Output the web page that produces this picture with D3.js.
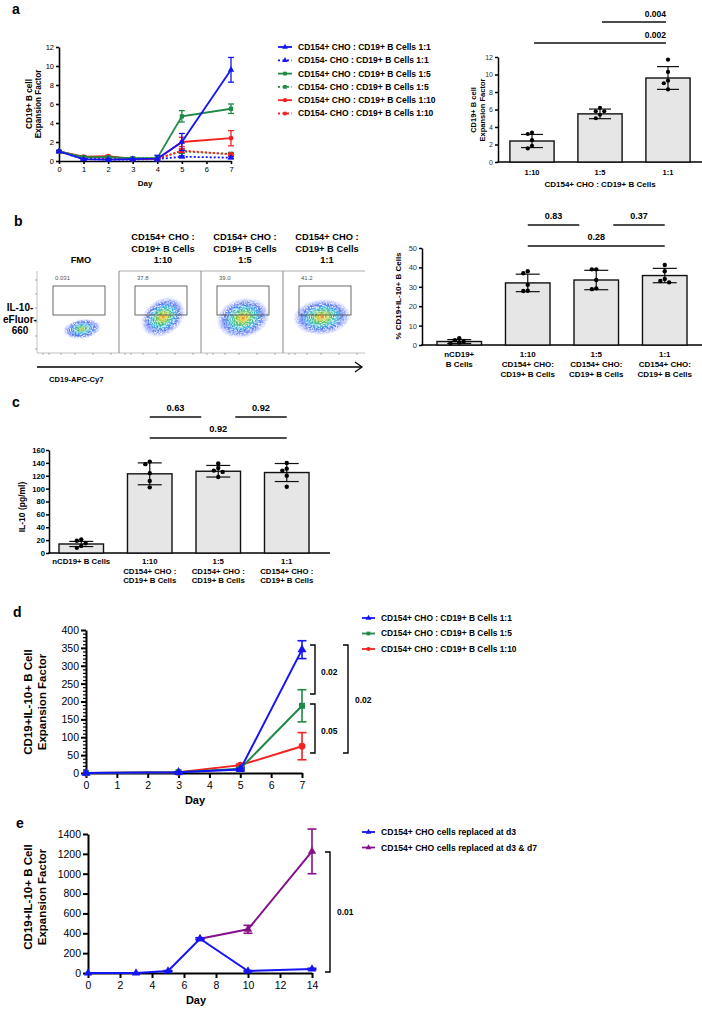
<!DOCTYPE html>
<html><head><meta charset="utf-8">
<script src="https://cdn.jsdelivr.net/npm/d3@7"></script>
<style>
body{margin:0;background:#fff}
svg{display:block}
text{font-family:"Liberation Sans",Arial,Helvetica,sans-serif}
</style>
</head><body>
<svg id="c" width="702" height="1011"></svg>
<script>
// ---------------- DATA ----------------
// Panel a (time course)
const daysA = [0,1,2,3,4,5,7];
const aPos11 = [1,0.2,0.15,0.2,0.25,2.0,9.6];
const aPos11Err = [0.1,0.05,0.05,0.05,0.35,0.9,1.3];
const aNeg11 = [1,0.2,0.15,0.15,0.2,0.45,0.35];
const aNeg11Err = [0.1,0.05,0.05,0.05,0.05,0.1,0.1];
const aPos15 = [1,0.4,0.4,0.3,0.3,4.7,5.5];
const aPos15Err = [0.1,0.1,0.1,0.1,0.1,0.6,0.5];
const aNeg15 = [1,0.35,0.3,0.3,0.3,1.0,0.75];
const aNeg15Err = [0.1,0.05,0.05,0.05,0.05,0.2,0.15];
const aPos110 = [1,0.45,0.5,0.2,0.2,2.0,2.4];
const aPos110Err = [0.1,0.1,0.1,0.05,0.05,0.5,0.8];
const aNeg110 = [1,0.3,0.3,0.2,0.2,1.1,0.7];
const aNeg110Err = [0.1,0.05,0.05,0.05,0.05,0.2,0.1];
const legendA = ["CD154+ CHO : CD19+ B Cells 1:1","CD154- CHO : CD19+ B Cells 1:1",
  "CD154+ CHO : CD19+ B Cells 1:5","CD154- CHO : CD19+ B Cells 1:5",
  "CD154+ CHO : CD19+ B Cells 1:10","CD154- CHO : CD19+ B Cells 1:10"];
const yTicksA = [0,2,4,6,8,10,12];
const xTicksA = [0,1,2,3,4,5,6,7];

// Panel a (bars)
const catsABar = ["1:10","1:5","1:1"];
const meansABar = [2.4,5.5,9.6];
const sdABar = [0.75,0.55,1.3];
const ptsABar = [[3.35,3.2,2.5,1.85,1.55],[6.2,5.8,5.8,5.4,5.0],[11.7,10.3,9.3,9.0,8.3]];
const sigABar = [{a:"1:5",b:"1:1",p:"0.004",lvl:0},{a:"1:10",b:"1:1",p:"0.002",lvl:1}];

// Panel b (flow)
const flowTitles = [["FMO"],["CD154+ CHO :","CD19+ B Cells","1:10"],["CD154+ CHO :","CD19+ B Cells","1:5"],["CD154+ CHO :","CD19+ B Cells","1:1"]];
const flowPct = ["0.031","37.8","39.0","41.2"];

// Panel b (bars)
const catsB = ["nCD19+","1:10","1:5","1:1"];
const labelsB = [["nCD19+","B Cells"],["1:10","CD154+ CHO:","CD19+ B Cells"],["1:5","CD154+ CHO:","CD19+ B Cells"],["1:1","CD154+ CHO:","CD19+ B Cells"]];
const meansB = [1.8,32,33.5,35.8];
const sdB = [1.0,4.5,5.0,3.7];
const ptsB = [[3.5,2.5,1.8,1.3,0.9],[38,37,31,28,27.8],[39,39,33.5,29.2,28.8],[41.2,38,34,33,32.3]];
const sigB = [{a:"1:10",b:"1:5",p:"0.83",lvl:0},{a:"1:5",b:"1:1",p:"0.37",lvl:0},{a:"1:10",b:"1:1",p:"0.28",lvl:1}];
const yTicksB = [0,10,20,30,40,50];

// Panel c
const catsC = ["nCD19+","1:10","1:5","1:1"];
const labelsC = [["nCD19+ B Cells"],["1:10","CD154+ CHO :","CD19+ B Cells"],["1:5","CD154+ CHO :","CD19+ B Cells"],["1:1","CD154+ CHO :","CD19+ B Cells"]];
const meansC = [14,123,127,125];
const sdC = [4,17,9,14];
const ptsC = [[21,19,15,11,8],[142,138,124,112,102],[139,132,128,126,118],[140,131,128,120,103]];
const sigC = [{a:"1:10",b:"1:5",p:"0.63",lvl:0},{a:"1:5",b:"1:1",p:"0.92",lvl:0},{a:"1:10",b:"1:1",p:"0.92",lvl:1}];
const yTicksC = [0,20,40,60,80,100,120,140,160];

// Panel d
const daysD = [0,3,5,7];
const d11 = [0,2,10,345];
const d11Err = [0,1,3,25];
const d15 = [0,2,12,188];
const d15Err = [0,1,3,45];
const d110 = [0,2,22,75];
const d110Err = [0,1,3,38];
const legendD = ["CD154+ CHO : CD19+ B Cells 1:1","CD154+ CHO : CD19+ B Cells 1:5","CD154+ CHO : CD19+ B Cells 1:10"];
const yTicksD = [0,50,100,150,200,250,300,350,400];
const xTicksD = [0,1,2,3,4,5,6,7];

// Panel e
const daysE1 = [0,3,5,7,10,14];
const e1 = [0,0,20,345,20,40];
const e1Err = [0,0,5,10,5,8];
const daysE2 = [7,10,14];
const e2 = [345,440,1225];
const e2Err = [10,40,225];
const legendE = ["CD154+ CHO cells replaced at d3","CD154+ CHO cells replaced at d3 & d7"];
const yTicksE = [0,200,400,600,800,1000,1200,1400];
const xTicksE = [0,2,4,6,8,10,12,14];

// ---------------- HELPERS ----------------
const svg = d3.select("#c");
const BLUE="#1414f5", GREEN="#1f8a46", RED="#f52020", PURPLE="#85108a";
const symMap = {tri:d3.symbolTriangle, sq:d3.symbolSquare, circ:d3.symbolCircle};
const fmt = d3.format("d");

function txt(g,x,y,s,o={}){
  return g.append("text").attr("x",x).attr("y",y).text(s)
    .attr("font-size",o.size||8).attr("font-weight",o.bold?"bold":"normal")
    .attr("text-anchor",o.anchor||"start").attr("fill",o.fill||"#000");
}
function vtxt(g,cx,cy,s,o={}){
  return g.append("text").attr("transform",`translate(${cx},${cy}) rotate(-90)`)
    .attr("text-anchor","middle").attr("dominant-baseline","central")
    .attr("font-size",o.size||8).attr("font-weight",o.bold?"bold":"normal").text(s);
}
function styleAxis(sel,o){
  sel.select("path.domain").attr("stroke","#000").attr("stroke-width",o.w);
  sel.selectAll(".tick line").attr("stroke","#000").attr("stroke-width",o.tw||o.w);
  sel.selectAll(".tick text").attr("font-size",o.fs).attr("font-weight",o.bold?"bold":"normal")
     .attr("fill",o.fill||"#000").attr("font-family",null);
}
function panelLetter(x,y,s){ txt(svg,x,y,s,{size:14,bold:true}); }

function lineChart(o){
  const g=svg.append("g");
  const {x,y}=o;
  const ya=g.append("g").attr("transform",`translate(${x.range()[0]},0)`)
    .call(d3.axisLeft(y).tickValues(o.yTicks).tickFormat(fmt).tickSize(o.tick).tickSizeOuter(0).tickPadding(2));
  styleAxis(ya,{w:o.aw,fs:o.fs});
  if(o.yMinor){
    const ym=g.append("g").attr("transform",`translate(${x.range()[0]},0)`)
      .call(d3.axisLeft(y).tickValues(o.yMinor).tickSize(o.tick*0.6).tickFormat(""));
    ym.select("path.domain").remove();
    ym.selectAll(".tick line").attr("stroke","#000").attr("stroke-width",1.2);
  }
  const xa=g.append("g").attr("transform",`translate(0,${y(0)})`)
    .call(d3.axisBottom(x).tickValues(o.xTicks).tickFormat(fmt).tickSize(o.tick).tickSizeOuter(0).tickPadding(o.xpad||3));
  styleAxis(xa,{w:o.aw,fs:o.fs});
  o.series.forEach(s=>{
    const pts=s.days.map((d,i)=>({d,v:s.vals[i],e:s.errs[i]}));
    g.append("path").datum(pts).attr("fill","none").attr("stroke",s.color)
      .attr("stroke-width",o.lw).attr("stroke-dasharray",s.dash?o.dash:null)
      .attr("d",d3.line().x(p=>x(p.d)).y(p=>y(p.v)));
    const eb=g.append("g").attr("stroke",s.color).attr("stroke-width",o.ew);
    pts.filter(p=>p.e>0).forEach(p=>{
      const cx=x(p.d),y1=y(p.v+p.e),y2=y(Math.max(0,p.v-p.e));
      eb.append("line").attr("x1",cx).attr("x2",cx).attr("y1",y1).attr("y2",y2);
      eb.append("line").attr("x1",cx-o.cap).attr("x2",cx+o.cap).attr("y1",y1).attr("y2",y1);
      eb.append("line").attr("x1",cx-o.cap).attr("x2",cx+o.cap).attr("y1",y2).attr("y2",y2);
    });
    g.selectAll(null).data(pts).join("path")
      .attr("transform",p=>`translate(${x(p.d)},${y(p.v)})`)
      .attr("d",d3.symbol().type(symMap[s.sym]).size(o.ss)).attr("fill",s.color);
  });
  return g;
}

function legend(x0,y0,dy,items,o){
  const g=svg.append("g");
  items.forEach((it,i)=>{
    const yy=y0+i*dy;
    g.append("line").attr("x1",x0).attr("x2",x0+o.len).attr("y1",yy).attr("y2",yy)
      .attr("stroke",it.color).attr("stroke-width",o.lw).attr("stroke-dasharray",it.dash?"2,2.5":null);
    g.append("path").attr("transform",`translate(${x0+o.len/2},${yy})`)
      .attr("d",d3.symbol().type(symMap[it.sym]).size(o.ss)).attr("fill",it.color);
    txt(g,x0+o.len+6,yy+o.fs*0.35,it.label,{size:o.fs,bold:true});
  });
}

function swarm(vals,y,r){
  const idx=vals.map((v,i)=>i).sort((a,b)=>vals[b]-vals[a]);
  const placed=[],off=[];
  idx.forEach(i=>{
    const py=y(vals[i]);
    for(const k of [0,-1,1,-2,2,-3,3]){
      const c=k*r*2;
      if(placed.every(p=>Math.hypot(p.x-c,p.y-py)>=r*1.9)){off[i]=c;placed.push({x:c,y:py});break;}
    }
    if(off[i]===undefined) off[i]=0;
  });
  return off;
}

function barChart(o){
  const g=svg.append("g");
  const {x,y}=o;
  const x0=o.axisX;
  const ya=g.append("g").attr("transform",`translate(${x0},0)`)
    .call(d3.axisLeft(y).tickValues(o.yTicks).tickFormat(fmt).tickSize(o.tick).tickSizeOuter(0).tickPadding(o.tpad||2));
  styleAxis(ya,{w:o.aw,fs:o.fs,bold:o.tbold,fill:o.tfill});
  g.append("line").attr("x1",x0-o.aw/2).attr("x2",o.xEnd).attr("y1",y(0)).attr("y2",y(0))
    .attr("stroke","#000").attr("stroke-width",o.aw);
  o.cats.forEach((c,i)=>{
    const bx=x(c),bw=x.bandwidth(),cx=bx+bw/2;
    g.append("rect").attr("x",bx).attr("y",y(o.means[i])).attr("width",bw)
      .attr("height",y(0)-y(o.means[i])).attr("fill","#e6e6e6").attr("stroke","#111").attr("stroke-width",1.4);
    const hi=y(o.means[i]+o.sd[i]),lo=y(Math.max(0,o.means[i]-o.sd[i]));
    const eg=g.append("g").attr("stroke","#111").attr("stroke-width",1.2);
    eg.append("line").attr("x1",cx).attr("x2",cx).attr("y1",hi).attr("y2",lo);
    eg.append("line").attr("x1",cx-o.cap).attr("x2",cx+o.cap).attr("y1",hi).attr("y2",hi);
    eg.append("line").attr("x1",cx-o.cap).attr("x2",cx+o.cap).attr("y1",lo).attr("y2",lo);
    const off=swarm(o.pts[i],y,o.r);
    g.selectAll(null).data(o.pts[i]).join("circle")
      .attr("cx",(v,j)=>cx+off[j]).attr("cy",v=>y(v)).attr("r",o.r).attr("fill","#000");
    o.labels[i].forEach((l,k)=>txt(g,cx,o.labY+k*o.labDy,l,{size:o.lfs,bold:true,anchor:"middle"}));
  });
  // shared category among level-0 comparisons gets a gap
  const lvl0=o.sig.filter(s=>s.lvl===0);
  const shared=new Set(lvl0.map(s=>s.a).filter(a=>lvl0.some(t=>t.b===a)));
  o.sig.forEach(s=>{
    let xa=x(s.a)+x.bandwidth()/2, xb=x(s.b)+x.bandwidth()/2;
    if(s.lvl===0 && shared.has(s.a)) xa+=o.gapTrim||0;
    if(s.lvl===0 && shared.has(s.b)) xb-=o.gapTrim||0;
    xa+=(o.sigInset||0); xb-=(o.sigInset||0);
    const ly=o.sigY[s.lvl];
    g.append("line").attr("x1",xa).attr("x2",xb).attr("y1",ly).attr("y2",ly)
      .attr("stroke","#111").attr("stroke-width",1.4);
    const tx = o.sigRight ? xb : (xa+xb)/2;
    txt(g,tx,ly-o.sigGap,s.p,{size:o.sfs,bold:true,anchor:o.sigRight?"end":"middle"});
  });
  return g;
}

function bracket(x,y1,y2,w,label,lx,ly,fs){
  svg.append("path").attr("d",`M${x-w},${y1}H${x}V${y2}H${x-w}`).attr("fill","none")
    .attr("stroke","#000").attr("stroke-width",1.4);
  txt(svg,lx,ly,label,{size:fs,bold:true});
}

// ---------------- PANEL a ----------------
panelLetter(12,14,"a");
{
  const x=d3.scaleLinear([0,7],[59,231]);
  const y=d3.scaleLinear([0,12],[161,47]);
  lineChart({x,y,yTicks:yTicksA,xTicks:xTicksA,tick:3,aw:1.6,fs:7.5,lw:1.8,ew:1.3,cap:3,ss:18,dash:"2,2",
    series:[
      {days:daysA,vals:aNeg15,errs:aNeg15Err,color:GREEN,dash:true,sym:"sq"},
      {days:daysA,vals:aNeg110,errs:aNeg110Err,color:RED,dash:true,sym:"circ"},
      {days:daysA,vals:aNeg11,errs:aNeg11Err,color:BLUE,dash:true,sym:"tri"},
      {days:daysA,vals:aPos110,errs:aPos110Err,color:RED,sym:"circ"},
      {days:daysA,vals:aPos15,errs:aPos15Err,color:GREEN,sym:"sq"},
      {days:daysA,vals:aPos11,errs:aPos11Err,color:BLUE,sym:"tri"}
    ]});
  txt(svg,145,186,"Day",{size:8,bold:true,anchor:"middle"});
  vtxt(svg,29,104,"CD19+ B cell",{size:8.2,bold:true});
  vtxt(svg,38.5,104,"Expansion Factor",{size:8.2,bold:true});
  const cols=[BLUE,BLUE,GREEN,GREEN,RED,RED], syms=["tri","tri","sq","sq","circ","circ"];
  legend(278,47,13.3,legendA.map((l,i)=>({label:l,color:cols[i],sym:syms[i],dash:i%2===1})),{len:14,lw:1.8,ss:14,fs:8.5});
}
{
  const x=d3.scaleBand(catsABar,[498,702]).paddingInner(0.35).paddingOuter(0.175);
  const y=d3.scaleLinear([0,12],[162,57]);
  barChart({x,y,cats:catsABar,means:meansABar,sd:sdABar,pts:ptsABar,axisX:498,xEnd:702,yTicks:yTicksA,
    tick:3,aw:1.5,fs:7,tfill:"#333",cap:11,r:2.1,labels:catsABar.map(c=>[c]),labY:175,labDy:10,lfs:7.5,
    sig:sigABar,sigY:[22,43],sigGap:5,sfs:8.5,sigRight:true,sigInset:2});
  txt(svg,600,187,"CD154+ CHO : CD19+ B Cells",{size:8,bold:true,anchor:"middle"});
  vtxt(svg,473,110,"CD19+ B cell",{size:7.5,bold:true});
  vtxt(svg,482,110,"Expansion Factor",{size:7.5,bold:true});
}

// ---------------- PANEL b ----------------
panelLetter(14,226,"b");
{
  const defs=svg.append("defs");
  const grad=defs.append("radialGradient").attr("id","blob");
  [[0,"#e04a18",1],[0.1,"#f0c000",1],[0.28,"#58c040",1],[0.5,"#18b0d8",0.95],[0.72,"#2a48f0",0.8],[1,"#5070ff",0]]
    .forEach(s=>grad.append("stop").attr("offset",s[0]).attr("stop-color",s[1]).attr("stop-opacity",s[2]));
  const gradF=defs.append("radialGradient").attr("id","blobF");
  [[0,"#e0c020",1],[0.15,"#60c040",1],[0.4,"#20b0e0",0.95],[0.7,"#2a48f0",0.85],[1,"#5070ff",0]]
    .forEach(s=>gradF.append("stop").attr("offset",s[0]).attr("stop-color",s[1]).attr("stop-opacity",s[2]));
  const filt=defs.append("filter").attr("id","speck").attr("x","-10%").attr("y","-10%").attr("width","120%").attr("height","120%");
  filt.append("feTurbulence").attr("type","fractalNoise").attr("baseFrequency",0.95).attr("numOctaves",2).attr("seed",4).attr("result","n");
  filt.append("feColorMatrix").attr("in","n").attr("type","matrix")
    .attr("values","0 0 0 0 0  0 0 0 0 0  0 0 0 0 0  4 0 0 0 -1.3").attr("result","m");
  filt.append("feComposite").attr("in","SourceGraphic").attr("in2","m").attr("operator","in");
  const plotW=82, top=271, bot=353, left0=37;
  const blobs=[{cx:45,cy:58,rx:19,ry:10,rot:-8,f:"blobF"},{cx:44,cy:46,rx:24,ry:18,rot:-35,f:"blob"},
               {cx:42,cy:47,rx:27,ry:20,rot:-15,f:"blob"},{cx:39,cy:46,rx:29,ry:18,rot:-5,f:"blob"}];
  const g=svg.append("g");
  flowTitles.forEach((t,i)=>{
    const x0=left0+i*plotW;
    if(i>0){
      g.append("line").attr("x1",x0).attr("x2",x0).attr("y1",top).attr("y2",bot).attr("stroke","#888").attr("stroke-width",1);
    }
    g.append("line").attr("x1",x0).attr("x2",x0+plotW).attr("y1",top).attr("y2",top).attr("stroke",i>0?"#999":"none").attr("stroke-width",0.8);
    const b=blobs[i];
    g.append("ellipse").attr("transform",`translate(${x0+b.cx},${top+b.cy}) rotate(${b.rot})`)
      .attr("rx",b.rx).attr("ry",b.ry).attr("fill",`url(#${b.f})`).attr("filter","url(#speck)");
    g.append("rect").attr("x",x0+16).attr("y",286).attr("width",52).attr("height",29)
      .attr("fill","none").attr("stroke","#444").attr("stroke-width",0.8);
    txt(g,x0+18,280,flowPct[i],{size:6,fill:"#555"});
    [6,12,24,38,56,74].forEach(tx=>g.append("line").attr("x1",x0+tx).attr("x2",x0+tx).attr("y1",bot).attr("y2",bot+2).attr("stroke","#777").attr("stroke-width",0.6));
    const n=t.length;
    t.forEach((s,k)=>txt(g,x0+plotW/2+3,263-(n-1-k)*11.5,s,{size:9.3,bold:true,anchor:"middle"}));
  });
  g.append("line").attr("x1",left0).attr("x2",left0+4*plotW).attr("y1",bot).attr("y2",bot).attr("stroke","#999").attr("stroke-width",0.6);
  [280,294,308,322,336,349].forEach(ty=>g.append("line").attr("x1",left0-2).attr("x2",left0).attr("y1",ty).attr("y2",ty).attr("stroke","#777").attr("stroke-width",0.6));
  g.append("line").attr("x1",left0).attr("x2",left0).attr("y1",top).attr("y2",bot).attr("stroke","#999").attr("stroke-width",0.6);
  g.append("line").attr("x1",left0).attr("x2",361).attr("y1",367).attr("y2",367).attr("stroke","#000").attr("stroke-width",1.3);
  g.append("path").attr("d","M355,362L362,367L355,372").attr("fill","none").attr("stroke","#000").attr("stroke-width",1.2);
  txt(g,49,382,"CD19-APC-Cy7",{size:7.6,bold:true});
  txt(g,20,311,"IL-10-",{size:10,bold:true,anchor:"middle"});
  txt(g,20,322.5,"eFluor-",{size:10,bold:true,anchor:"middle"});
  txt(g,20,334,"660",{size:10,bold:true,anchor:"middle"});
}
{
  const x=d3.scaleBand(catsB,[425,699]).paddingInner(0.35).paddingOuter(0.175);
  const y=d3.scaleLinear([0,50],[345,248]);
  barChart({x,y,cats:catsB,means:meansB,sd:sdB,pts:ptsB,axisX:422,xEnd:702,yTicks:yTicksB,
    tick:3,aw:1.5,fs:7.5,tfill:"#333",cap:12,r:2.2,labels:labelsB,labY:357,labDy:10,lfs:8,
    sig:sigB,sigY:[225,246],sigGap:6,sfs:9,sigInset:0,gapTrim:17});
  vtxt(svg,398,296,"% CD19+IL-10+ B Cells",{size:8,bold:true});
}

// ---------------- PANEL c ----------------
panelLetter(12,407,"c");
{
  const x=d3.scaleBand(catsC,[47,321]).paddingInner(0.35).paddingOuter(0.175);
  const y=d3.scaleLinear([0,160],[553,450]);
  barChart({x,y,cats:catsC,means:meansC,sd:sdC,pts:ptsC,axisX:49,xEnd:330,yTicks:yTicksC,
    tick:3,tpad:1,aw:1.5,fs:7.6,tbold:true,cap:12,r:2.2,labels:labelsC,labY:564,labDy:9.5,lfs:7.8,
    sig:sigC,sigY:[417,438],sigGap:6,sfs:9.3,sigInset:0,gapTrim:17});
  vtxt(svg,22,507,"IL-10 (pg/ml)",{size:8.5,bold:true});
}

// ---------------- PANEL d ----------------
panelLetter(13,617,"d");
{
  const x=d3.scaleLinear([0,7],[86,302]);
  const y=d3.scaleLinear([0,400],[773,630]);
  lineChart({x,y,yTicks:yTicksD,yMinor:d3.range(0,401,10).filter(v=>v%50!==0),xTicks:xTicksD,tick:5,aw:2,fs:10.5,
    lw:2,ew:1.6,cap:4.5,ss:36,xpad:4,
    series:[
      {days:daysD,vals:d110,errs:d110Err,color:RED,sym:"circ"},
      {days:daysD,vals:d15,errs:d15Err,color:GREEN,sym:"sq"},
      {days:daysD,vals:d11,errs:d11Err,color:BLUE,sym:"tri"}
    ]});
  txt(svg,195,804,"Day",{size:11,bold:true,anchor:"middle"});
  vtxt(svg,28,702,"CD19+IL-10+ B Cell",{size:11.5,bold:true});
  vtxt(svg,42,702,"Expansion Factor",{size:11.5,bold:true});
  legend(362,618,15.5,legendD.map((l,i)=>({label:l,color:[BLUE,GREEN,RED][i],sym:["tri","sq","circ"][i]})),{len:13,lw:1.8,ss:14,fs:8.4});
  bracket(315,645,694,5,"0.02",321,675,8.5);
  bracket(315,704,753,5,"0.05",321,734,8.5);
  bracket(348,645,753,5,"0.02",355,703,8.5);
}

// ---------------- PANEL e ----------------
panelLetter(16,828,"e");
{
  const x=d3.scaleLinear([0,14],[88,312]);
  const y=d3.scaleLinear([0,1400],[973,834]);
  lineChart({x,y,yTicks:yTicksE,xTicks:xTicksE,tick:5,aw:2,fs:10.5,lw:2,ew:1.6,cap:4.5,ss:30,xpad:4,
    series:[
      {days:daysE2,vals:e2,errs:e2Err,color:PURPLE,sym:"tri"},
      {days:daysE1,vals:e1,errs:e1Err,color:BLUE,sym:"tri"}
    ]});
  txt(svg,196,1004,"Day",{size:11,bold:true,anchor:"middle"});
  vtxt(svg,28,897,"CD19+IL-10+ B Cell",{size:11.5,bold:true});
  vtxt(svg,42,897,"Expansion Factor",{size:11.5,bold:true});
  legend(362,832,15.5,legendE.map((l,i)=>({label:l,color:[BLUE,PURPLE][i],sym:"tri"})),{len:13,lw:1.8,ss:14,fs:8.6});
  bracket(330,852,972,5,"0.01",337,915,8.5);
}
</script>
</body></html>
